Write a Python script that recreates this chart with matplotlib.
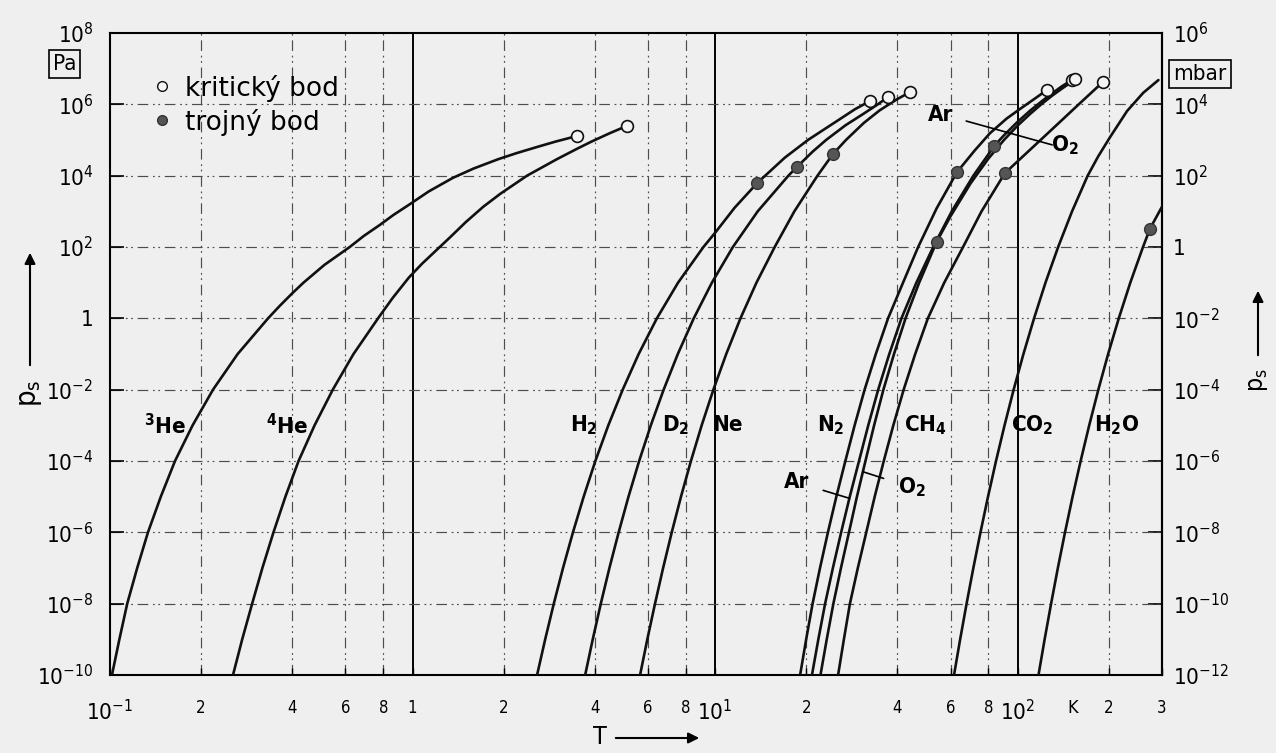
import numpy as np
import matplotlib
matplotlib.use("Agg")
import matplotlib.pyplot as plt
from matplotlib.lines import Line2D
from matplotlib.patches import FancyArrowPatch
from matplotlib.ticker import NullLocator

# tlak nasycenych par p_s [Pa] v zavislosti na teplote T [K]
he3_T = [0.1015, 0.1074, 0.114, 0.123, 0.1335, 0.1472, 0.164, 0.1875, 0.219, 0.2642, 0.333, 0.364,
         0.40, 0.436, 0.5115, 0.62, 0.69, 0.78, 0.865, 0.97, 1.132, 1.36, 1.59, 1.92, 2.21, 2.6, 2.98, 3.50]
he3_p = [1e-10, 1e-9, 1e-8, 1e-7, 1e-6, 1e-5, 1e-4, 1e-3, 1e-2, 1e-1, 1, 2.24,
         5, 10, 31.6, 100, 204, 417, 794, 1.5e3, 3.63e3, 8.7e3, 1.58e4, 2.9e4, 4.3e4, 6.5e4, 9.1e4, 1.3e5]

he4_T = [0.255, 0.2735, 0.295, 0.3189, 0.347, 0.380, 0.42, 0.4744, 0.545, 0.638, 0.769, 0.859, 0.973,
         1.075, 1.2, 1.333, 1.5, 1.714, 1.95, 2.39, 3.0, 3.5, 3.89, 4.5, 5.12]
he4_p = [1e-10, 1e-9, 1e-8, 1e-7, 1e-6, 1e-5, 1e-4, 1e-3, 1e-2, 1e-1, 1, 3.7, 14,
         34, 82, 190, 500, 1.35e3, 3.1e3, 1.0e4, 2.9e4, 5.7e4, 8.9e4, 1.57e5, 2.5e5]

h2_T = [2.58, 2.744, 2.93, 3.143, 3.39, 3.678, 4.02, 4.437, 4.95, 5.59, 6.42, 7.543, 9.15, 10.0, 11.6,
        13.8, 17.0, 20.3, 25.0, 29.0, 32.5]
h2_p = [1e-10, 1e-9, 1e-8, 1e-7, 1e-6, 1e-5, 1e-4, 1e-3, 1e-2, 1e-1, 1, 10, 1e2, 2.5e2, 1.26e3,
        6.3e3, 3.2e4, 1.01e5, 3.2e5, 7.3e5, 1.24e6]

d2_T = [3.72, 3.941, 4.19, 4.474, 4.80, 5.173, 5.61, 6.131, 6.76, 7.53, 8.50, 9.76, 11.45, 13.83, 17.47,
        18.7, 21.0, 23.3, 27.0, 31.0, 34.5, 37.3]
d2_p = [1e-10, 1e-9, 1e-8, 1e-7, 1e-6, 1e-5, 1e-4, 1e-3, 1e-2, 1e-1, 1, 10, 1e2, 1e3, 1e4,
        1.8e4, 4.7e4, 1.01e5, 2.6e5, 5.5e5, 1.0e6, 1.6e6]

ne_T = [5.65, 5.97, 6.33, 6.732, 7.19, 7.713, 8.32, 9.029, 9.87, 10.885, 12.13, 13.70, 15.74, 18.28, 21.8,
        24.5, 27.1, 31.0, 35.0, 40.0, 44.1]
ne_p = [1e-10, 1e-9, 1e-8, 1e-7, 1e-6, 1e-5, 1e-4, 1e-3, 1e-2, 1e-1, 1, 10, 1e2, 1e3, 1e4,
        4.0e4, 1.01e5, 3.0e5, 6.8e5, 1.4e6, 2.2e6]

n2_T = [19.1, 20.0, 21.0, 22.22, 23.6, 25.16, 26.95, 28.92, 31.2, 33.98, 37.3, 41.8, 46.9, 54.0, 63.0,
        72.0, 81.0, 92.0, 102.0, 114.0, 125.2]
n2_p = [1e-10, 1e-9, 1e-8, 1e-7, 1e-6, 1e-5, 1e-4, 1e-3, 1e-2, 1e-1, 1, 10, 1e2, 1.22e3, 1.25e4,
        5.0e4, 1.55e5, 4.0e5, 7.5e5, 1.45e6, 2.55e6]

ar_T = [20.9, 21.94, 23.1, 24.51, 26.1, 27.87, 29.9, 32.08, 34.6, 37.65, 41.3, 46.27, 52.6, 60.57, 71.4,
        83.8, 90.0, 100.0, 110.0, 120.0, 130.0, 140.0, 151.0]
ar_p = [1e-10, 1e-9, 1e-8, 1e-7, 1e-6, 1e-5, 1e-4, 1e-3, 1e-2, 1e-1, 1, 10, 1e2, 1e3, 1e4,
        6.9e4, 1.34e5, 3.24e5, 6.67e5, 1.21e6, 2.03e6, 3.2e6, 4.8e6]

o2_T = [22.3, 23.39, 24.6, 26.06, 27.7, 29.43, 31.4, 33.54, 36.0, 39.02, 42.6, 47.26, 54.0, 60.0, 70.0,
        80.0, 90.2, 100.0, 110.0, 120.0, 130.0, 140.0, 155.0]
o2_p = [1e-10, 1e-9, 1e-8, 1e-7, 1e-6, 1e-5, 1e-4, 1e-3, 1e-2, 1e-1, 1, 10, 1.4e2, 7.3e2, 6.2e3,
        3.0e4, 1.01e5, 2.54e5, 5.4e5, 1.02e6, 1.75e6, 2.75e6, 5.0e6]

ch4_T = [25.5, 26.65, 27.9, 29.63, 31.6, 33.69, 36.1, 38.82, 42.0, 45.86, 50.5, 57.2, 66.0, 75.97, 90.7,
         100.0, 111.7, 125.0, 140.0, 160.0, 180.0, 192.0]
ch4_p = [1e-10, 1e-9, 1e-8, 1e-7, 1e-6, 1e-5, 1e-4, 1e-3, 1e-2, 1e-1, 1, 10, 1e2, 1e3, 1.17e4,
         2.53e4, 6.05e4, 1.47e5, 3.6e5, 1.04e6, 2.62e6, 4.36e6]

co2_T = [61.62, 64.56, 67.8, 71.38, 75.36, 79.81, 84.82, 90.51, 97.0, 104.5, 113.3, 123.6, 136.1, 151.3,
         170.4, 184.6, 202.0, 230.0, 260.0, 292.0]
co2_p = [1e-10, 1e-9, 1e-8, 1e-7, 1e-6, 1e-5, 1e-4, 1e-3, 1e-2, 1e-1, 1, 10, 1e2, 1e3,
         1e4, 3.47e4, 1.2e5, 6.5e5, 2.1e6, 4.8e6]

h2o_T = [117.2, 122.8, 129.0, 135.8, 143.4, 151.9, 161.5, 172.4, 184.8, 199.1, 215.9, 235.7, 259.6,
         274.0, 300.0]
h2o_p = [1e-10, 1e-9, 1e-8, 1e-7, 1e-6, 1e-5, 1e-4, 1e-3, 1e-2, 1e-1, 1, 10, 1e2,
         3.3e2, 1.35e3]

# kriticke a trojne body
krit_T = [3.50, 5.12, 32.5, 37.3, 44.1, 125.2, 151.0, 155.0, 192.0]
krit_p = [1.3e5, 2.5e5, 1.24e6, 1.6e6, 2.2e6, 2.55e6, 4.8e6, 5.0e6, 4.36e6]
troj_T = [13.8, 18.7, 24.5, 63.0, 83.8, 54.0, 90.7, 274.0]
troj_p = [6.3e3, 1.8e4, 4.0e4, 1.25e4, 6.9e4, 1.4e2, 1.17e4, 3.3e2]

# popisky plynu (T, p kde stoji text)
nazvy = [r'$\mathregular{^3He}$', r'$\mathregular{^4He}$', r'$\mathregular{H_2}$', r'$\mathregular{D_2}$', 'Ne',
         r'$\mathregular{N_2}$', r'$\mathregular{CH_4}$', r'$\mathregular{CO_2}$', r'$\mathregular{H_2O}$']
nazvy_T = [0.152, 0.385, 3.69, 7.38, 10.96, 24.2, 49.4, 111.7, 213.0]
nazvy_p = [1e-3] * 9

# osy
x_ticks = [0.1, 0.2, 0.4, 0.6, 0.8, 1, 2, 4, 6, 8, 10, 20, 40, 60, 80, 100, 200, 300]
x_labels = [r'$\mathregular{10^{-1}}$', '2', '4', '6', '8', '1', '2', '4', '6', '8',
            r'$\mathregular{10^{1}}$', '2', '4', '6', '8', r'$\mathregular{10^{2}}$', '2', '3']
pa_ticks = [1e-10, 1e-8, 1e-6, 1e-4, 1e-2, 1, 1e2, 1e4, 1e6, 1e8]
pa_labels = [r'$\mathregular{10^{-10}}$', r'$\mathregular{10^{-8}}$', r'$\mathregular{10^{-6}}$',
             r'$\mathregular{10^{-4}}$', r'$\mathregular{10^{-2}}$', '1', r'$\mathregular{10^{2}}$',
             r'$\mathregular{10^{4}}$', r'$\mathregular{10^{6}}$', r'$\mathregular{10^{8}}$']
mbar_ticks = [1e-12, 1e-10, 1e-8, 1e-6, 1e-4, 1e-2, 1, 1e2, 1e4, 1e6]
mbar_labels = [r'$\mathregular{10^{-12}}$', r'$\mathregular{10^{-10}}$', r'$\mathregular{10^{-8}}$',
               r'$\mathregular{10^{-6}}$', r'$\mathregular{10^{-4}}$', r'$\mathregular{10^{-2}}$', '1',
               r'$\mathregular{10^{2}}$', r'$\mathregular{10^{4}}$', r'$\mathregular{10^{6}}$']

plt.rcParams['font.family'] = 'DejaVu Sans'
plt.rcParams['font.stretch'] = 'condensed'

fig = plt.figure(figsize=(12.76, 7.53), dpi=100, facecolor='#efefef')
ax = fig.add_axes([110 / 1276, 1 - 675 / 753, 1052 / 1276, 642 / 753])
ax.set_facecolor('#efefef')
ax.set_xscale('log')
ax.set_yscale('log')
ax.set_xlim(0.1, 300)
ax.set_ylim(1e-10, 1e8)

# mrizka
carka_tecka = (0, (9, 4, 1.5, 3, 1.5, 4))
for t in x_ticks[1:-1]:
    if t in (1, 10, 100):
        ax.axvline(t, color='k', lw=1.4, zorder=1)
    else:
        ax.axvline(t, color='0.3', lw=0.85, ls=carka_tecka, zorder=1)
for p in pa_ticks[1:-1]:
    ax.axhline(p, color='0.3', lw=0.85, ls=carka_tecka, zorder=1)

krivky = [(he3_T, he3_p), (he4_T, he4_p), (h2_T, h2_p), (d2_T, d2_p), (ne_T, ne_p),
          (n2_T, n2_p), (ar_T, ar_p), (o2_T, o2_p), (ch4_T, ch4_p), (co2_T, co2_p), (h2o_T, h2o_p)]
for T, p in krivky:
    ax.plot(T, p, color='#111111', lw=1.9, solid_capstyle='round', solid_joinstyle='round', zorder=3)

ax.plot(krit_T, krit_p, 'o', ms=8.5, mfc='#f4f4f4', mec='#111111', mew=1.2, zorder=4)
ax.plot(troj_T, troj_p, 'o', ms=8.5, mfc='#555555', mec='#333333', mew=1.0, zorder=4)

for txt, T, p in zip(nazvy, nazvy_T, nazvy_p):
    ax.text(T, p, txt, fontsize=16, fontweight='bold', ha='center', va='center', zorder=5)


def na_krivce(T, p, hodnota):
    # teplota na krivce pro dany tlak (jen pro umisteni odkazove cary)
    return 10 ** np.interp(np.log10(hodnota), np.log10(p), np.log10(T))


# Ar a O2 - dole i nahore s odkazovymi carami
ax.annotate('Ar', xy=(na_krivce(ar_T, ar_p, 9e-6), 9e-6), xytext=(18.66, 2.5e-5), fontsize=16,
            fontweight='bold', ha='center', va='center',
            arrowprops=dict(arrowstyle='-', color='k', lw=1.2, shrinkA=8, shrinkB=0))
ax.annotate(r'$\mathregular{O_2}$', xy=(na_krivce(o2_T, o2_p, 5e-5), 5e-5), xytext=(44.8, 1.8e-5),
            fontsize=16, fontweight='bold', ha='center', va='center',
            arrowprops=dict(arrowstyle='-', color='k', lw=1.2, shrinkA=9, shrinkB=0))
ax.text(55.5, 5.0e5, 'Ar', fontsize=16, fontweight='bold', ha='center', va='center')
ax.text(143.5, 7.3e4, r'$\mathregular{O_2}$', fontsize=16, fontweight='bold', ha='center', va='center')
ax.annotate('', xy=(130, 7.3e4), xytext=(67.6, 3.4e5),
            arrowprops=dict(arrowstyle='-', color='k', lw=1.2, shrinkA=0, shrinkB=0))

# popisy os
ax.set_xticks(x_ticks, labels=x_labels)
ax.xaxis.set_minor_locator(NullLocator())
ax.set_yticks(pa_ticks, labels=pa_labels)
ax.yaxis.set_minor_locator(NullLocator())
ax.tick_params(axis='x', direction='in', length=5, width=1.0, labelsize=12, pad=17)
ax.tick_params(axis='y', direction='in', length=10, width=1.2, labelsize=16, pad=12)
for lbl in ax.get_xticklabels():
    if '10' in lbl.get_text():
        lbl.set_fontsize(16)
ax.text(152.6, -0.052, 'K', fontsize=13, ha='center', va='center', transform=ax.get_xaxis_transform())

sec = ax.secondary_yaxis('right', functions=(lambda p: p / 100, lambda m: m * 100))
sec.set_yticks(mbar_ticks, labels=mbar_labels)
sec.yaxis.set_minor_locator(NullLocator())
sec.tick_params(axis='y', direction='in', length=10, width=1.2, labelsize=16, pad=8)

for s in ax.spines.values():
    s.set_linewidth(1.5)
for s in sec.spines.values():
    s.set_linewidth(1.5)

ax.legend([Line2D([], [], marker='o', ls='none', ms=7, mfc='#f4f4f4', mec='#111111', mew=1.0),
           Line2D([], [], marker='o', ls='none', ms=7, mfc='#555555', mec='#333333')],
          ['kritický bod', 'trojný bod'], loc='upper left', bbox_to_anchor=(0.041, 0.935),
          frameon=False, borderaxespad=0, borderpad=0, handlelength=0.7, handletextpad=0.5,
          labelspacing=0.26, prop={'family': 'DejaVu Sans', 'size': 19, 'stretch': 'normal'})

# jednotky v rameckach
ram = dict(boxstyle='square,pad=0.18', fc='none', ec='k', lw=1.2)
fig.text(64.5 / 1276, 1 - 63.5 / 753, 'Pa', fontsize=16, ha='center', va='center', bbox=ram)
fig.text(1200 / 1276, 1 - 73.5 / 753, 'mbar', fontsize=16, ha='center', va='center', bbox=ram)

# p_s a T se sipkami
fig.text(30 / 1276, 1 - 393 / 753, r'$\mathregular{p_s}$', fontsize=21, rotation=90, ha='center', va='center')
fig.text(1258 / 1276, 1 - 380 / 753, r'$\mathregular{p_s}$', fontsize=18, rotation=90, ha='center', va='center')
fig.text(600 / 1276, 1 - 737 / 753, 'T', fontsize=18, ha='center', va='center')
sip = dict(arrowstyle='-|>', color='k', lw=1.5, mutation_scale=16)
fig.add_artist(FancyArrowPatch((30 / 1276, 1 - 368 / 753), (30 / 1276, 1 - 250 / 753),
                               transform=fig.transFigure, **sip))
fig.add_artist(FancyArrowPatch((1258 / 1276, 1 - 358 / 753), (1258 / 1276, 1 - 288 / 753),
                               transform=fig.transFigure, **sip))
fig.add_artist(FancyArrowPatch((613 / 1276, 1 - 738 / 753), (702 / 1276, 1 - 738 / 753),
                               transform=fig.transFigure, **sip))

fig.savefig('out.png', dpi=100, facecolor=fig.get_facecolor())
